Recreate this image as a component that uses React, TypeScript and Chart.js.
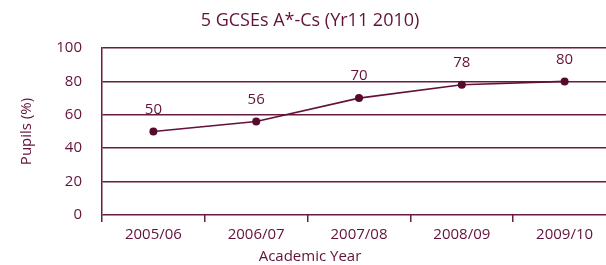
import React, { useEffect, useRef } from "react";
import { Chart, registerables } from "chart.js";

Chart.register(...registerables);

const categories = ["2005/06", "2006/07", "2007/08", "2008/09", "2009/10"];
const pupilsPct = [50, 56, 70, 78, 80];
const yTicks = [0, 20, 40, 60, 80, 100];
const titleText = "5 GCSEs A*-Cs (Yr11 2010)";
const xTitle = "Academic Year";
const yTitle = "Pupils (%)";

const TEXT = "#62123a";
const LINE = "#62123a";
const POINT = "#560a2d";
const GRID = "#6b1a42";
const FONT = "'Open Sans', sans-serif";

const valueLabels = {
  id: "valueLabels",
  afterDatasetsDraw(chart: any) {
    const ctx = chart.ctx;
    const meta = chart.getDatasetMeta(0);
    ctx.save();
    ctx.fillStyle = TEXT;
    ctx.font = `15px ${FONT}`;
    ctx.textAlign = "center";
    ctx.textBaseline = "middle";
    meta.data.forEach((pt: any, i: number) => {
      ctx.fillText(String(pupilsPct[i]), pt.x, pt.y - 22);
    });
    // x-axis title, centred on the canvas like the reference
    ctx.fillText(xTitle, chart.width / 2, chart.height - 8);
    ctx.restore();
  },
};

export default function App() {
  const ref = useRef<HTMLCanvasElement | null>(null);
  useEffect(() => {
    if (!ref.current) return;
    const chart = new Chart(ref.current, {
      type: "line",
      data: {
        labels: categories,
        datasets: [
          {
            data: pupilsPct,
            borderColor: LINE,
            borderWidth: 1.6,
            pointRadius: 4,
            pointBackgroundColor: POINT,
            pointBorderColor: POINT,
            pointBorderWidth: 0,
            tension: 0,
            fill: false,
          },
        ],
      },
      options: {
        animation: false,
        responsive: false,
        maintainAspectRatio: false,
        layout: { padding: { left: 0, right: 0, top: 0, bottom: 0 } },
        plugins: {
          legend: { display: false },
          tooltip: { enabled: false },
          title: {
            display: true,
            text: titleText,
            color: TEXT,
            font: { family: FONT, size: 18, weight: "normal" },
            padding: { top: 10, bottom: 16.4 },
          },
        },
        scales: {
          x: {
            type: "category",
            offset: true,
            grid: {
              offset: true,
              drawOnChartArea: false,
              drawTicks: true,
              tickLength: 7,
              color: GRID,
              lineWidth: 1.5,
            },
            border: { display: false },
            ticks: {
              color: TEXT,
              font: { family: FONT, size: 15 },
              padding: 4,
              maxRotation: 0,
            },
            title: { display: false, text: xTitle },
            afterFit(scale: any) {
              scale.height = 50;
            },
          },
          y: {
            min: 0,
            max: 100,
            afterBuildTicks(scale: any) {
              scale.ticks = yTicks.map((v) => ({ value: v }));
            },
            grid: {
              drawTicks: false,
              color: GRID,
              lineWidth: 1.5,
            },
            border: { display: true, color: GRID, width: 1.5 },
            ticks: {
              color: TEXT,
              font: { family: FONT, size: 15 },
              padding: 20,
            },
            title: {
              display: true,
              text: yTitle,
              color: TEXT,
              font: { family: FONT, size: 15 },
              padding: { top: 18, bottom: 0 },
            },
            afterFit(scale: any) {
              scale.width = 102;
            },
          },
        },
      },
      plugins: [valueLabels],
    });
    return () => chart.destroy();
  }, []);

  return (
    <div
      style={{
        position: "fixed",
        left: 0,
        top: 0,
        width: 606,
        height: 265,
        overflow: "hidden",
        background: "#fff",
      }}
    >
      <canvas ref={ref} width={620} height={265} style={{ display: "block", width: 620, height: 265 }} />
    </div>
  );
}
